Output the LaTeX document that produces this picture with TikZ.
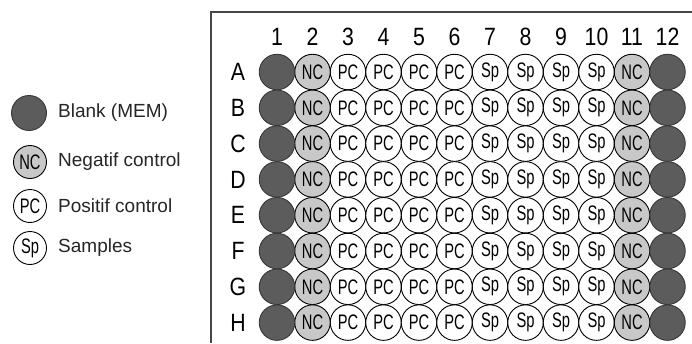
\documentclass[tikz,border=0pt]{standalone}
\usepackage{fontspec}
\setmainfont{Liberation Sans}
\usepackage{graphicx}
\definecolor{blankc}{RGB}{92,92,92}
\definecolor{ncc}{RGB}{200,200,200}
\definecolor{framec}{RGB}{70,70,70}
\newcommand\sqz[1]{\scalebox{0.7}[1]{#1}}
\newcommand\sqn[1]{\scalebox{0.85}[1]{#1}}
\begin{document}
\begin{tikzpicture}[x=1pt,y=-1pt,
  well/.style={circle,draw=black,line width=0.9pt,minimum size=35.5pt,inner sep=0pt,
    font=\fontsize{21}{21}\selectfont},
  blankwell/.style={well,fill=blankc,draw=blankc!60!black},
  ncwell/.style={well,fill=ncc},
  pcwell/.style={well,fill=white},
  lab/.style={font=\fontsize{25}{25}\selectfont,inner sep=0pt},
  legtext/.style={anchor=west,inner sep=0pt,text=black!85,font=\fontsize{19}{19}\selectfont}]
\useasboundingbox (0,0) rectangle (692,343);
\fill[white] (0,0) rectangle (692,343);
% plate frame
\coordinate (fb) at (211,343);
\coordinate (ftl) at (211,12);
\coordinate (fr) at (692,12);
\draw[line width=1.4pt,draw=framec] (fb) -- (ftl) -- (fr);
% column labels
\foreach \c in {1,...,12}
  \node[lab] (col\c) at ({277+(\c-1)*35.5},37) {\sqn{\c}};
% wells
\foreach \r [count=\i from 0] in {A,B,C,D,E,F,G,H}{
  \node[lab] (row\r) at (238,{72+\i*35.8}) {\sqn{\r}};
  \foreach \c in {3,4,5,6,7,8,9,10}{
    \ifnum\c<7
      \node[pcwell] (w\r\c) at ({277+(\c-1)*35.5},{72+\i*35.8}) {\sqz{PC}};
    \else
      \node[pcwell] (w\r\c) at ({277+(\c-1)*35.5},{72+\i*35.8}) {\sqz{Sp}};
    \fi
  }
  \foreach \c in {2,11}
    \node[ncwell] (w\r\c) at ({277+(\c-1)*35.5},{72+\i*35.8}) {\sqz{NC}};
  \foreach \c in {1,12}
    \node[blankwell] (w\r\c) at ({277+(\c-1)*35.5},{72+\i*35.8}) {};
}
% legend
\node[blankwell,minimum size=35pt] (lb) at (29,113) {};
\node[ncwell,minimum size=33pt] (ln) at (30,162) {\sqz{NC}};
\node[pcwell,minimum size=33pt] (lp) at (30,206) {\sqz{PC}};
\node[pcwell,minimum size=33pt] (ls) at (30,248) {\sqz{Sp}};
\node[legtext] (tb) at (58,113) {Blank (MEM)};
\node[legtext] (tn) at (58,162) {Negatif control};
\node[legtext] (tp) at (58,206) {Positif control};
\node[legtext] (ts) at (58,248) {Samples};
\end{tikzpicture}
\end{document}
